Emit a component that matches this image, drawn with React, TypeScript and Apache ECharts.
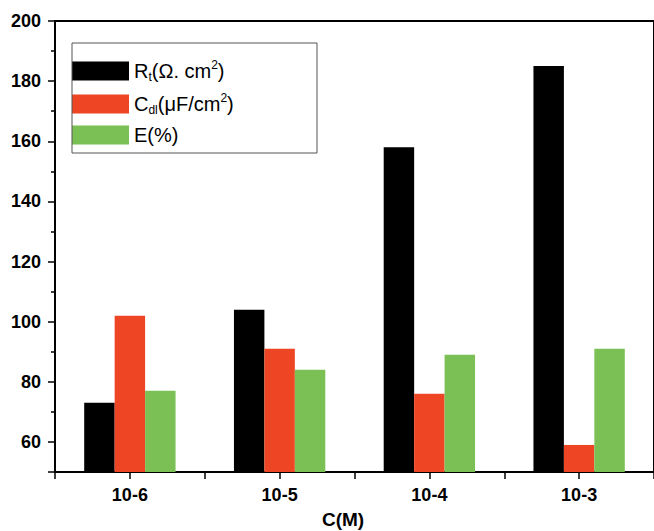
import React, { useEffect, useRef } from "react";
import * as echarts from "echarts";

const categories = ["10-6", "10-5", "10-4", "10-3"];
const rtValues = [73, 104, 158, 185];
const cdlValues = [102, 91, 76, 59];
const eValues = [77, 84, 89, 91];
const seriesNames = ["Rt", "Cdl", "E"];
const seriesColors = ["#000000", "#ee4624", "#7ac054"];
const legendLabels: Record<string, string> = {
  Rt: "{m|R}{sub|t}{m|(Ω. cm}{sup|2}{m|)}",
  Cdl: "{m|C}{sub|dl}{m|(μF/cm}{sup|2}{m|)}",
  E: "{m|E(%)}",
};
const xAxisTitle = "C(M)";

const FONT = "'Liberation Sans', Arial, sans-serif";

export default function App() {
  const ref = useRef<HTMLDivElement>(null);
  useEffect(() => {
    document.body.style.margin = "0";
    if (!ref.current) return;
    const chart = echarts.init(ref.current, undefined, { renderer: "svg" });
    const values = [rtValues, cdlValues, eValues];
    chart.setOption({
      animation: false,
      backgroundColor: "#ffffff",
      grid: {
        left: 55,
        top: 21,
        right: -9,
        bottom: 59,
        show: true,
        borderColor: "#000",
        borderWidth: 2,
        backgroundColor: "transparent",
      },
      legend: {
        orient: "vertical",
        left: 72,
        top: 59,
        padding: 0,
        itemWidth: 57,
        itemHeight: 19,
        itemGap: 9,
        icon: "rect",
        data: seriesNames,
        formatter: (name: string) => legendLabels[name],
        textStyle: {
          color: "#000",
          fontFamily: FONT,
          rich: {
            m: { fontSize: 20, fontFamily: FONT, color: "#000", lineHeight: 24 },
            sub: { fontSize: 12, fontFamily: FONT, color: "#000", lineHeight: 9, verticalAlign: "bottom" },
            sup: { fontSize: 12, fontFamily: FONT, color: "#000", lineHeight: 14, verticalAlign: "top" },
          },
        },
      },
      xAxis: [
        {
          type: "category",
          data: categories,
          position: "bottom",
          axisLine: { show: true, lineStyle: { color: "#000", width: 2 } },
          axisTick: { show: true, alignWithLabel: true, length: 7, lineStyle: { color: "#000", width: 1.5 } },
          axisLabel: { color: "#000", fontSize: 18, fontWeight: "bold", fontFamily: FONT, margin: 14 },
          splitLine: { show: false },
        },
        {
          type: "category",
          data: categories,
          position: "bottom",
          axisLine: { show: false },
          axisTick: { show: true, length: 7, lineStyle: { color: "#000", width: 1.5 } },
          axisLabel: { show: false },
          splitLine: { show: false },
        },
      ],
      yAxis: {
        type: "value",
        min: 50,
        max: 200,
        splitNumber: 7,
        axisLine: { show: true, lineStyle: { color: "#000", width: 2 } },
        axisTick: { show: true, length: 7, lineStyle: { color: "#000", width: 1.5 } },
        minorTick: { show: true, splitNumber: 2, length: 4, lineStyle: { color: "#000", width: 1.5 } },
        axisLabel: {
          color: "#000",
          fontSize: 18,
          fontWeight: "bold",
          fontFamily: FONT,
          margin: 14,
          showMinLabel: false,
        },
        splitLine: { show: false },
      },
      graphic: [
        {
          type: "rect",
          shape: { x: 72, y: 43, width: 245, height: 110 },
          style: { fill: "none", stroke: "#555", lineWidth: 1 },
          z: 10,
        },
        {
          type: "text",
          x: 343,
          y: 519,
          style: {
            text: xAxisTitle,
            fontSize: 19,
            fontWeight: "bold",
            fontFamily: FONT,
            fill: "#000",
            align: "center",
            verticalAlign: "middle",
          },
        },
      ],
      series: seriesNames.map((name, i) => ({
        name,
        type: "bar",
        xAxisIndex: 0,
        data: values[i],
        barGap: "0%",
        barCategoryGap: "39%",
        itemStyle: { color: seriesColors[i] },
      })),
    });
    return () => chart.dispose();
  }, []);
  return <div ref={ref} style={{ width: 654, height: 531 }} />;
}
